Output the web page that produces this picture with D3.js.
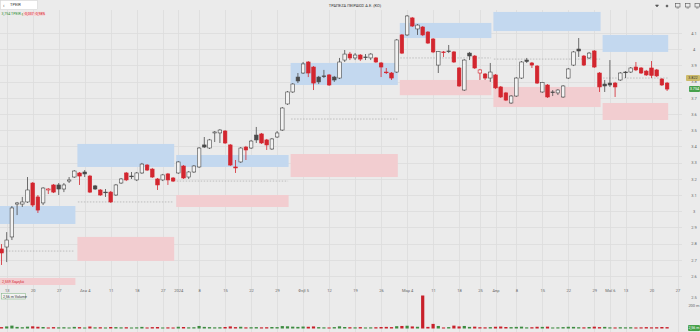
<!DOCTYPE html>
<html><head><meta charset="utf-8">
<script src="https://cdn.jsdelivr.net/npm/d3@7"></script>
<style>
html,body{margin:0;padding:0;background:#ebebeb;overflow:hidden}
svg{display:block;font-family:Roboto,"Noto Sans",sans-serif}
</style></head><body>
<svg id="c" width="700" height="332"></svg>
<script>
// ---- data ----
const openP = [2.767,2.779,2.841,3.044,3.044,3.057,3.174,3.088,3.051,3.131,
3.162,3.162,3.137,3.186,3.211,3.236,3.242,3.217,3.156,3.131,
3.118,3.118,3.100,3.174,3.236,3.217,3.193,3.236,3.285,3.260,
3.199,3.193,3.230,3.205,3.236,3.279,3.211,3.242,3.273,3.409,
3.390,3.483,3.483,3.495,3.409,3.273,3.304,3.396,3.390,3.470,
3.477,3.440,3.384,3.458,3.501,3.662,3.736,3.828,3.853,3.921,
3.890,3.828,3.835,3.841,3.828,3.822,3.933,3.970,3.946,3.964,
3.952,3.946,3.946,3.915,3.859,3.853,3.859,4.088,4.088,4.193,
4.125,4.137,4.106,4.063,3.902,3.983,3.989,3.983,3.884,3.748,
3.976,3.958,3.853,3.847,3.822,3.841,3.767,3.730,3.668,3.711,
3.822,3.933,3.915,3.896,3.736,3.779,3.736,3.730,3.705,3.822,
3.902,4.001,3.958,3.946,3.989,3.853,3.785,3.791,3.791,3.810,
3.859,3.859,3.890,3.884,3.865,3.884,3.872,3.816,3.791];
const highP = [2.797,2.871,3.032,3.057,3.088,3.211,3.180,3.100,3.149,3.143,
3.168,3.174,3.174,3.211,3.254,3.242,3.254,3.224,3.162,3.137,
3.137,3.125,3.168,3.205,3.242,3.242,3.242,3.298,3.291,3.267,
3.205,3.230,3.236,3.211,3.310,3.285,3.248,3.285,3.396,3.458,
3.446,3.495,3.507,3.501,3.415,3.316,3.396,3.403,3.440,3.520,
3.483,3.446,3.452,3.495,3.643,3.742,3.791,3.853,3.921,3.927,
3.896,3.835,3.872,3.847,3.835,3.946,3.995,3.983,3.976,3.970,
3.970,3.976,3.952,3.921,3.884,3.859,4.063,4.094,4.211,4.199,
4.155,4.143,4.112,4.069,3.989,3.989,4.026,3.989,3.890,3.939,
3.983,3.964,3.878,3.853,3.915,3.847,3.773,3.736,3.717,3.828,
3.927,3.946,3.921,3.902,3.798,3.785,3.748,3.754,3.779,3.884,
3.989,4.069,3.964,3.983,3.995,3.859,3.810,3.933,3.798,3.859,
3.865,3.890,3.921,3.890,3.872,3.927,3.878,3.822,3.798];
const lowP = [2.668,2.686,2.822,2.976,3.026,3.051,3.026,2.989,3.038,3.106,
3.112,3.100,3.118,3.174,3.205,3.162,3.211,3.112,3.131,3.094,
3.088,3.051,3.094,3.168,3.186,3.199,3.186,3.230,3.248,3.205,
3.131,3.186,3.162,3.180,3.230,3.199,3.199,3.236,3.267,3.390,
3.384,3.427,3.421,3.415,3.279,3.236,3.298,3.316,3.384,3.421,
3.415,3.378,3.378,3.452,3.495,3.656,3.730,3.791,3.847,3.828,
3.748,3.785,3.822,3.773,3.798,3.816,3.921,3.933,3.933,3.927,
3.933,3.933,3.915,3.828,3.847,3.810,3.853,3.970,4.081,4.137,
4.088,4.081,4.032,3.976,3.853,3.952,3.976,3.915,3.767,3.742,
3.933,3.878,3.810,3.810,3.798,3.754,3.699,3.680,3.662,3.705,
3.816,3.915,3.884,3.785,3.730,3.699,3.711,3.717,3.699,3.816,
3.896,3.952,3.896,3.939,3.884,3.736,3.736,3.767,3.705,3.804,
3.822,3.853,3.865,3.847,3.835,3.822,3.828,3.773,3.742];
const closeP = [2.742,2.822,3.020,3.051,3.057,3.131,3.038,3.007,3.143,3.137,
3.118,3.137,3.162,3.193,3.248,3.217,3.230,3.118,3.137,3.100,
3.115,3.057,3.162,3.199,3.193,3.214,3.236,3.291,3.254,3.211,
3.162,3.224,3.193,3.186,3.304,3.205,3.242,3.279,3.390,3.396,
3.440,3.489,3.501,3.421,3.285,3.267,3.390,3.378,3.433,3.440,
3.421,3.409,3.446,3.483,3.637,3.736,3.785,3.804,3.909,3.853,
3.791,3.798,3.831,3.779,3.810,3.921,3.970,3.946,3.964,3.939,
3.949,3.970,3.921,3.890,3.856,3.822,4.057,3.976,4.205,4.143,
4.149,4.088,4.038,3.983,3.986,3.980,3.986,3.921,3.773,3.933,
3.958,3.884,3.872,3.822,3.859,3.761,3.705,3.686,3.711,3.822,
3.921,3.924,3.902,3.791,3.795,3.705,3.733,3.748,3.773,3.878,
3.983,3.989,3.902,3.976,3.890,3.767,3.773,3.779,3.767,3.853,
3.856,3.884,3.872,3.853,3.841,3.838,3.835,3.779,3.754];
const volumeM = [12,18,25,14,11,16,19,15,13,9,
12,10,11,9,14,12,8,17,10,11,
9,13,12,10,11,8,10,14,9,12,
13,9,10,6,15,13,10,11,22,14,
12,10,11,13,18,12,15,10,11,12,
10,11,13,12,21,19,16,14,17,15,
18,12,10,9,12,19,13,11,10,12,
9,10,11,13,14,12,20,22,24,18,
15,287,14,40,22,9,12,25,18,22,
14,16,11,10,12,15,17,13,12,14,
16,10,11,15,14,16,9,10,12,15,
14,11,10,13,16,12,14,10,9,11,
10,11,9,10,12,10,11,13,12];

const xTickIndex = [1,6,11,16,21,26,31,34,38,43,48,53,58,63,68,73,78,83,88,92,95,99,104,109,114,117,120,125,130];
const xTickLabels = ["13","20","27","Δεκ 4","11","18","27","2024","8","15","22","29","Φεβ 5","12","19","26","Μαρ 4","11","18","25","Απρ","8","15","22","29","Μαΐ 6","13","20","27"];
const yTicks = [2.6,2.7,2.8,2.9,3.0,3.1,3.2,3.3,3.4,3.5,3.6,3.7,3.8,3.9,4.0,4.1];
const yTickLabels = ["2.6","2.7","2.8","2.9","3","3.1","3.2","3.3","3.4","3.5","3.6","3.7","3.8","3.9","4","4.1"];

// monthly zones (start/end candle index, price bounds)
const zoneStart = [0,15,34,56,77,95,116];
const zoneEnd   = [14,33,55,76,94,115,128];
const zoneBlueTop = [3.032,3.415,3.347,3.915,4.162,4.230,4.088];
const zoneBlueBot = [2.921,3.273,3.273,3.779,4.069,4.112,3.983];
const zonePinkTop = [2.588,2.841,3.100,3.353,3.810,3.767,3.668];
const zonePinkBot = [2.530,2.693,3.026,3.211,3.716,3.643,3.563];
const zoneMid     = [2.754,3.057,3.186,3.569,3.946,3.939,3.822];

const title = "ΤΡΑΠΕΖΑ ΠΕΙΡΑΙΩΣ Α.Ε. (ΚΟ)";
const symbol = "TPEIR";

// ---- drawing ----
const svg = d3.select("#c");
const plotR = 682, paneTop = 10, paneBot = 285, volTop = 293, volBase = 328.5;
const x = d3.scaleLinear().domain([0,128]).range([1.5, 1.5+5.2*128]);
const y = d3.scaleLinear().domain([2.6,4.1]).range([276,33]);
const yv = d3.scaleLinear().domain([0,200]).range([volBase, 305.5]);

svg.append("rect").attr("width",700).attr("height",332).attr("fill","#ebebeb");

const defs = svg.append("defs");
defs.append("clipPath").attr("id","pc").append("rect")
  .attr("x",0).attr("y",paneTop).attr("width",plotR).attr("height",paneBot-paneTop);

// grid
const g = svg.append("g");
g.selectAll("line.h").data(yTicks).join("line")
  .attr("x1",0).attr("x2",plotR)
  .attr("y1",d=>Math.round(y(d))+0.5).attr("y2",d=>Math.round(y(d))+0.5)
  .attr("stroke","#dcdcdc").attr("stroke-width",0.8);
g.selectAll("line.v").data(xTickIndex).join("line")
  .attr("y1",paneTop).attr("y2",332)
  .attr("x1",d=>Math.round(x(d))+0.5).attr("x2",d=>Math.round(x(d))+0.5)
  .attr("stroke","#dcdcdc").attr("stroke-width",0.8);

// zones
const zones = d3.range(zoneStart.length).map(i=>({s:zoneStart[i],e:zoneEnd[i],bt:zoneBlueTop[i],bb:zoneBlueBot[i],pt:zonePinkTop[i],pb:zonePinkBot[i],m:zoneMid[i]}));
const zg = svg.append("g").attr("clip-path","url(#pc)");
zg.selectAll("rect.b").data(zones).join("rect")
  .attr("x",d=>x(d.s-0.5)+0.5).attr("width",d=>x(d.e+0.5)-x(d.s-0.5)-2)
  .attr("y",d=>y(d.bt)).attr("height",d=>y(d.bb)-y(d.bt))
  .attr("fill","#c3d8ef");
zg.selectAll("rect.p").data(zones).join("rect")
  .attr("x",d=>x(d.s-0.5)+0.5).attr("width",d=>x(d.e+0.5)-x(d.s-0.5)-2)
  .attr("y",d=>y(d.pt)).attr("height",d=>y(d.pb)-y(d.pt))
  .attr("fill","#f2cdd0");
zg.selectAll("line.m").data(zones).join("line")
  .attr("x1",d=>x(d.s-0.5)+1).attr("x2",d=>x(d.e+0.5)-2)
  .attr("y1",d=>y(d.m)).attr("y2",d=>y(d.m))
  .attr("stroke","#a0a0a0").attr("stroke-width",0.6).attr("stroke-dasharray","1.5,1.5");

// candles
const candles = openP.map((o,i)=>({i,o,h:highP[i],l:lowP[i],c:closeP[i],v:volumeM[i],
  up: i===0 ? closeP[i]>=o : closeP[i]>=closeP[i-1]}));
const red="#d3262f", dark="#4a4a4a";
const cg = svg.append("g").attr("clip-path","url(#pc)");
cg.selectAll("line.w").data(candles).join("line")
  .attr("x1",d=>x(d.i)).attr("x2",d=>x(d.i))
  .attr("y1",d=>y(d.h)).attr("y2",d=>y(d.l))
  .attr("stroke",d=>d.up?dark:red).attr("stroke-width",0.8);
const bw = 3.6;
cg.selectAll("rect.c").data(candles).join("rect")
  .attr("x",d=>x(d.i)-bw/2).attr("width",bw)
  .attr("y",d=>y(Math.max(d.o,d.c)))
  .attr("height",d=>Math.max(0.7,Math.abs(y(d.o)-y(d.c))))
  .attr("fill",d=>d.c>d.o ? "#f2f2f2" : (d.up?dark:red))
  .attr("stroke",d=>d.up?dark:red).attr("stroke-width",0.6);

// volume
svg.append("g").selectAll("rect").data(candles).join("rect")
  .attr("x",d=>x(d.i)-1.6).attr("width",3.2)
  .attr("y",d=>Math.min(yv(d.v), volBase-1))
  .attr("height",d=>Math.max(1, volBase-yv(d.v)))
  .attr("fill",d=>d.up?"#3d8b40":"#c8202a");

// x axis
const xa = svg.append("g").attr("transform",`translate(0,${paneBot})`)
  .call(d3.axisBottom(x).tickValues(xTickIndex).tickFormat((d,i)=>xTickLabels[i]).tickSize(0).tickPadding(4));
xa.select(".domain").remove();
xa.selectAll("text").attr("font-size",4).attr("fill","#666").attr("font-family","Roboto,sans-serif");

// y axis (right)
const ya = svg.append("g").attr("transform","translate(688,0)")
  .call(d3.axisRight(y).tickValues(yTicks).tickFormat((d,i)=>yTickLabels[i]).tickSize(0).tickPadding(6));
ya.select(".domain").remove();
ya.selectAll("text").attr("font-size",4).attr("fill","#666").attr("text-anchor","middle").attr("font-family","Roboto,sans-serif");

// price badges
const lastClose = closeP[closeP.length-1];
const mayMid = zoneMid[zoneMid.length-1];
function badge(py, fill, txt, tcol, x0){
  svg.append("rect").attr("x",x0).attr("y",py-3).attr("width",700-x0).attr("height",6).attr("rx",1).attr("fill",fill);
  svg.append("text").attr("x",(x0+700)/2).attr("y",py+1.4).attr("text-anchor","middle").attr("font-size",3.8).attr("fill",tcol).text(txt);
}
badge(y(mayMid), "#cdbb6a", mayMid.toFixed(3), "#333", 686);
badge(y(lastClose), "#47a14b", lastClose.toFixed(3), "#fff", 689);

// volume axis labels
svg.append("text").attr("x",694).attr("y",298.5).attr("text-anchor","middle").attr("font-size",4).attr("fill","#666").text("2.5");
svg.append("text").attr("x",694).attr("y",306.5).attr("text-anchor","middle").attr("font-size",4).attr("fill","#666").text("200 m");
svg.append("rect").attr("x",688).attr("y",325).attr("width",12).attr("height",6).attr("rx",1).attr("fill","#47a14b");
svg.append("text").attr("x",694).attr("y",329.4).attr("text-anchor","middle").attr("font-size",3.6).attr("fill","#fff").text("2,56 m");

// volume legend box
svg.append("rect").attr("x",1.5).attr("y",293.5).attr("width",24).attr("height",5.5).attr("fill","#f4f4f4").attr("stroke","#7bb27e").attr("stroke-width",0.5);
svg.append("text").attr("x",3).attr("y",297.6).attr("font-size",3.6).attr("fill","#333").text("2,56 m Volume");

// pink zone label bottom-left
svg.append("text").attr("x",2).attr("y",283).attr("font-size",3.6).attr("fill","#d3262f").text("2,559 Χαμηλό");

// header
svg.append("rect").attr("x",0.5).attr("y",0.5).attr("width",37).attr("height",9).attr("fill","#fff").attr("stroke","#d0d0d0").attr("stroke-width",0.5);
svg.append("text").attr("x",3).attr("y",6.6).attr("font-size",5).attr("fill","#444").text("‹");
svg.append("text").attr("x",10).attr("y",6.4).attr("font-size",4).attr("fill","#333").text(symbol);
svg.append("text").attr("x",355).attr("y",7).attr("text-anchor","middle").attr("font-size",4).attr("fill","#333").text(title);
svg.append("text").attr("x",1.5).attr("y",14.8).attr("font-size",3.6).attr("fill","#2e8b35").text("3,754 TPEIR.gr");
svg.append("rect").attr("x",23).attr("y",11.8).attr("width",22).attr("height",4).attr("fill","#f6d4d6");
svg.append("text").attr("x",24).attr("y",14.8).attr("font-size",3.6).attr("fill","#d3262f").text("-0,037 -0,98%");

// top-right icons
const ic = svg.append("g").attr("fill","none").attr("stroke","#555").attr("stroke-width",0.6);
ic.append("path").attr("d","M655.5,5 L658.5,5 L657,7 Z").attr("fill","#555");
ic.append("circle").attr("cx",667).attr("cy",6).attr("r",1).attr("fill","#555");
[675.5,685.5,695].forEach(cx=>{
  ic.append("rect").attr("x",cx).attr("y",3.5).attr("width",4.5).attr("height",3.5);
  ic.append("line").attr("x1",cx+1).attr("x2",cx+3.5).attr("y1",8).attr("y2",8);
});
</script>
</body></html>
